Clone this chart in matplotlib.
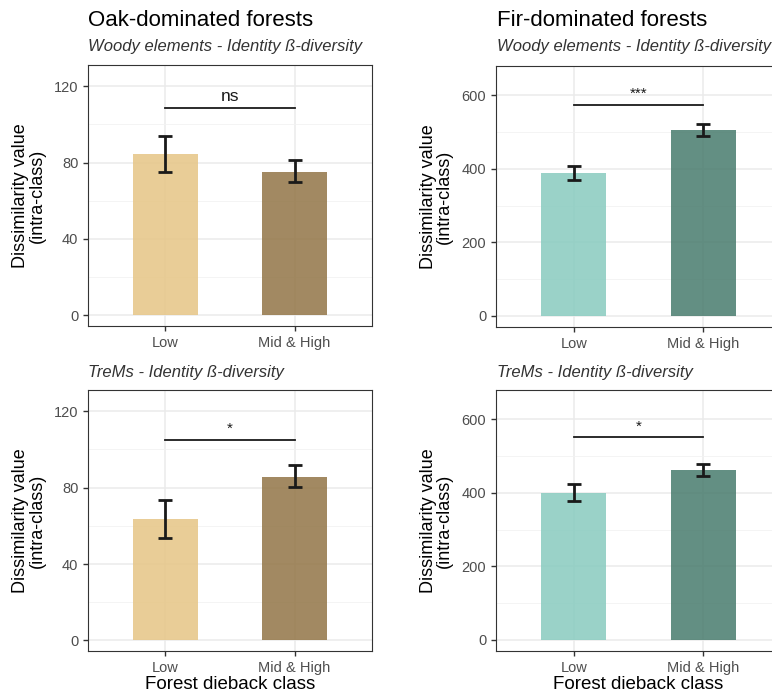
import matplotlib
matplotlib.use("Agg")
from matplotlib import pyplot as plt

plt.rcParams['font.family'] = ['Liberation Sans', 'DejaVu Sans']

categories = ["Low", "Mid & High"]

# Oak-dominated forests
oak_woody_mean = [84.5, 75.3]
oak_woody_low = [75.0, 69.8]
oak_woody_high = [93.8, 81.1]
oak_trems_mean = [63.6, 85.7]
oak_trems_low = [53.8, 80.2]
oak_trems_high = [73.6, 91.6]

# Fir-dominated forests
fir_woody_mean = [389, 506]
fir_woody_low = [369, 490]
fir_woody_high = [409, 523]
fir_trems_mean = [401, 462]
fir_trems_low = [379, 445]
fir_trems_high = [425, 479]

oak_sig = ["ns", "*"]
oak_sig_y = [108.6, 104.9]
fir_sig = ["***", "*"]
fir_sig_y = [574, 551]

oak_colors = ["#E6C585", "#927546"]
fir_colors = ["#88CBBF", "#487B6D"]

W, H = 772, 694
fig = plt.figure(figsize=(W / 100, H / 100), dpi=100)


def box(x0, y0, x1, y1):
    return [x0 / W, 1 - y1 / H, (x1 - x0) / W, (y1 - y0) / H]


def panel(rect, mean, lo, hi, colors, ylim, ticks, minor, sig, sig_y, xlabel):
    ax = fig.add_axes(rect)
    x = [1, 2]
    ax.set_axisbelow(True)
    ax.grid(True, which="major", color="#EBEBEB", lw=1.1)
    ax.set_yticks(minor, minor=True)
    ax.grid(True, which="minor", axis="y", color="#F2F2F2", lw=0.6)
    ax.bar(x, mean, width=0.5, color=colors, alpha=0.85, zorder=2)
    for i in range(2):
        ax.errorbar(x[i], mean[i], yerr=[[mean[i] - lo[i]], [hi[i] - mean[i]]],
                    fmt="none", ecolor="#1A1A1A", elinewidth=2, capsize=5,
                    capthick=2, zorder=3)
    ax.plot([1, 2], [sig_y, sig_y], color="#1A1A1A", lw=1.3, zorder=3)
    ax.text(1.5, sig_y + (ylim[1] - ylim[0]) * 0.015, sig, ha="center",
            va="bottom", fontsize=12.5 if sig == "ns" else 11, color="#1A1A1A")
    ax.set_xlim(0.4, 2.6)
    ax.set_ylim(*ylim)
    ax.set_xticks(x)
    ax.set_xticklabels(categories)
    ax.set_yticks(ticks)
    ax.tick_params(axis="both", labelsize=10.5, colors="#333333",
                   labelcolor="#4D4D4D", length=3.5, width=1)
    ax.tick_params(which="minor", length=0)
    for s in ax.spines.values():
        s.set_color("#333333")
        s.set_linewidth(0.8)
    ax.set_ylabel("Dissimilarity value\n(intra-class)", fontsize=13,
                  labelpad=6, linespacing=0.95)
    if xlabel:
        ax.set_xlabel("Forest dieback class", fontsize=13.5, labelpad=1)
    return ax


oak_lim = (-5.5, 131)
fir_lim = (-30, 680)

panel(box(88, 65, 372, 326), oak_woody_mean, oak_woody_low, oak_woody_high,
      oak_colors, oak_lim, [0, 40, 80, 120], [20, 60, 100], oak_sig[0],
      oak_sig_y[0], False)
panel(box(496, 66, 781, 327), fir_woody_mean, fir_woody_low, fir_woody_high,
      fir_colors, fir_lim, [0, 200, 400, 600], [100, 300, 500], fir_sig[0],
      fir_sig_y[0], False)
panel(box(88, 390, 372, 651), oak_trems_mean, oak_trems_low, oak_trems_high,
      oak_colors, oak_lim, [0, 40, 80, 120], [20, 60, 100], oak_sig[1],
      oak_sig_y[1], True)
panel(box(496, 390, 781, 651), fir_trems_mean, fir_trems_low, fir_trems_high,
      fir_colors, fir_lim, [0, 200, 400, 600], [100, 300, 500], fir_sig[1],
      fir_sig_y[1], True)

fig.text(88 / W, 1 - 20 / H, "Oak-dominated forests", fontsize=16,
         va="center", ha="left")
fig.text(497 / W, 1 - 20 / H, "Fir-dominated forests", fontsize=16,
         va="center", ha="left")
sub1 = "Woody elements - Identity ß-diversity"
sub2 = "TreMs - Identity ß-diversity"
fig.text(88 / W, 1 - 47 / H, sub1, fontsize=12, style="italic",
         color="#333333", va="center", ha="left")
fig.text(497 / W, 1 - 47 / H, sub1, fontsize=12, style="italic",
         color="#333333", va="center", ha="left")
fig.text(88 / W, 1 - 372 / H, sub2, fontsize=12, style="italic",
         color="#333333", va="center", ha="left")
fig.text(497 / W, 1 - 372 / H, sub2, fontsize=12, style="italic",
         color="#333333", va="center", ha="left")

fig.savefig("out.png", dpi=100)
